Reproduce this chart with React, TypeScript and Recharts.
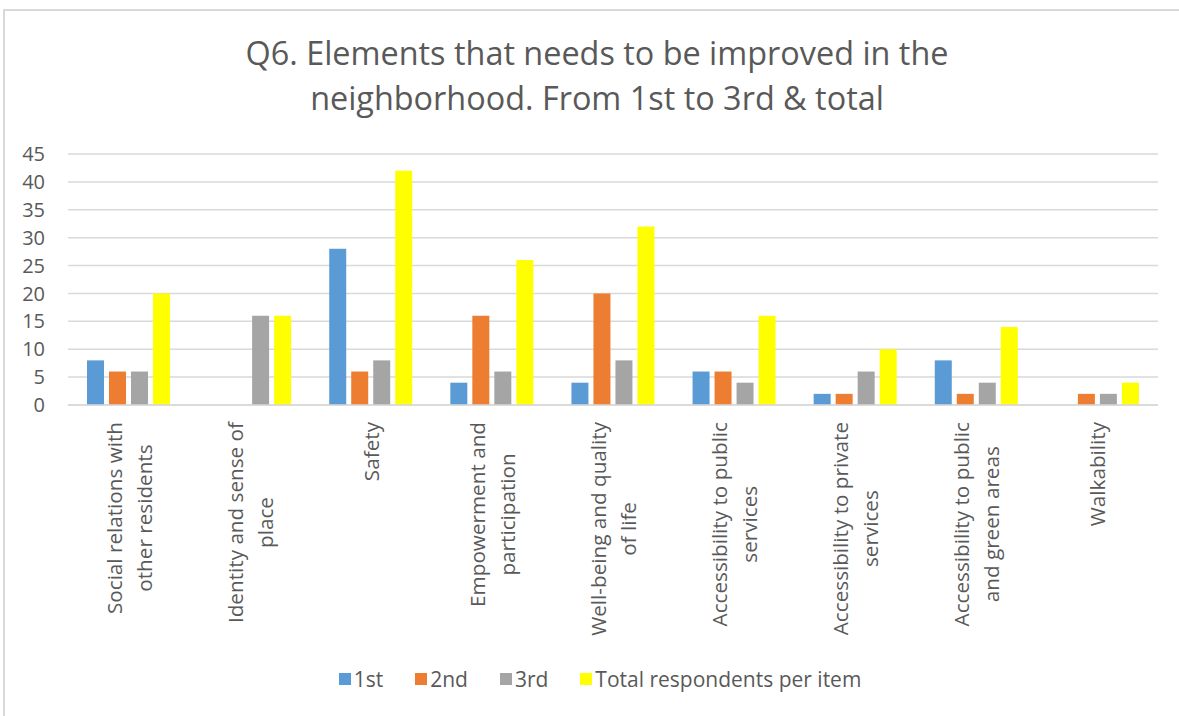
import { BarChart, Bar, XAxis, YAxis, CartesianGrid } from 'recharts';

const categories = [
  'Social relations with|other residents',
  'Identity and sense of|place',
  'Safety',
  'Empowerment and|participation',
  'Well-being and quality|of life',
  'Accessibility to public|services',
  'Accessibility to private|services',
  'Accessibility to public|and green areas',
  'Walkability',
];

const first = [8, 0, 28, 4, 4, 6, 2, 8, 0];
const second = [6, 0, 6, 16, 20, 6, 2, 2, 2];
const third = [6, 16, 8, 6, 8, 4, 6, 4, 2];
const total = [20, 16, 42, 26, 32, 16, 10, 14, 4];

const yTicks = [0, 5, 10, 15, 20, 25, 30, 35, 40, 45];

const series = [
  { key: 'first', name: '1st', color: '#5b9bd5' },
  { key: 'second', name: '2nd', color: '#ed7d31' },
  { key: 'third', name: '3rd', color: '#a5a5a5' },
  { key: 'total', name: 'Total respondents per item', color: '#ffff00' },
];

const data = categories.map((c, i) => ({
  name: c,
  first: first[i],
  second: second[i],
  third: third[i],
  total: total[i],
}));

const FONT = '"Open Sans", sans-serif';
const TEXT = '#595959';
const LABEL_SIZE = 20.7;

let ctx: CanvasRenderingContext2D | null = null;
function textWidth(s: string, size: number) {
  if (!ctx) ctx = document.createElement('canvas').getContext('2d');
  if (!ctx) return s.length * size * 0.5;
  ctx.font = `${size}px "Open Sans"`;
  return ctx.measureText(s).width;
}

// category labels: rotated, wrapped, longest line starts at the top
function CategoryTick(props: any) {
  const { x, y, payload } = props;
  const lines: string[] = String(payload.value).split('|');
  const len = Math.max(...lines.map(l => textWidth(l, LABEL_SIZE)));
  const cy = y + 17 + len / 2;
  const pitch = 30;
  return (
    <g>
      {lines.map((l, i) => (
        <g key={i} transform={`translate(${x + (i - (lines.length - 1) / 2) * pitch}, ${cy}) rotate(-90)`}>
          <text textAnchor="middle" dominantBaseline="central" fontSize={LABEL_SIZE} fontFamily={FONT} fill={TEXT}>
            {l}
          </text>
        </g>
      ))}
    </g>
  );
}

export default function App() {
  return (
    <div
      style={{
        position: 'absolute',
        left: 3,
        top: 9,
        width: 1190,
        height: 720,
        border: '2px solid #d9d9d9',
        boxSizing: 'border-box',
        background: '#fff',
        fontFamily: FONT,
      }}
    >
      <div
        style={{
          position: 'absolute',
          left: 0,
          top: 19,
          width: 1184,
          textAlign: 'center',
          fontSize: 32.4,
          lineHeight: '45px',
          color: TEXT,
        }}
      >
        <div>Q6. Elements that needs to be improved in the</div>
        <div>neighborhood. From 1st to 3rd &amp; total</div>
      </div>
      <div style={{ position: 'absolute', left: 0, top: 0 }}>
        <BarChart
          width={1176}
          height={705}
          data={data}
          margin={{ top: 143, right: 23, bottom: 10, left: 0 }}
          barSize={17}
          barGap={5}
        >
          <CartesianGrid vertical={false} stroke="#d9d9d9" strokeWidth={1.5} />
          <XAxis
            dataKey="name"
            height={301}
            interval={0}
            tickLine={false}
            tickSize={0}
            tickMargin={0}
            axisLine={{ stroke: '#d9d9d9', strokeWidth: 1.5 }}
            tick={<CategoryTick />}
          />
          <YAxis
            width={63}
            domain={[0, 45]}
            ticks={yTicks}
            interval={0}
            axisLine={false}
            tickLine={false}
            tickSize={0}
            tickMargin={23}
            tick={{ fontSize: 20, fill: TEXT, fontFamily: FONT }}
          />
          {series.map(s => (
            <Bar key={s.key} dataKey={s.key} name={s.name} fill={s.color} isAnimationActive={false} />
          ))}
        </BarChart>
      </div>
      <div
        style={{
          position: 'absolute',
          left: 0,
          top: 654,
          width: 1190,
          display: 'flex',
          justifyContent: 'center',
          alignItems: 'center',
          fontSize: 21,
          color: TEXT,
        }}
      >
        {series.map(s => (
          <div key={s.key} style={{ display: 'flex', alignItems: 'center', margin: '0 16px' }}>
            <span style={{ width: 12, height: 12, background: s.color, marginRight: 3, display: 'inline-block' }} />
            <span>{s.name}</span>
          </div>
        ))}
      </div>
    </div>
  );
}
